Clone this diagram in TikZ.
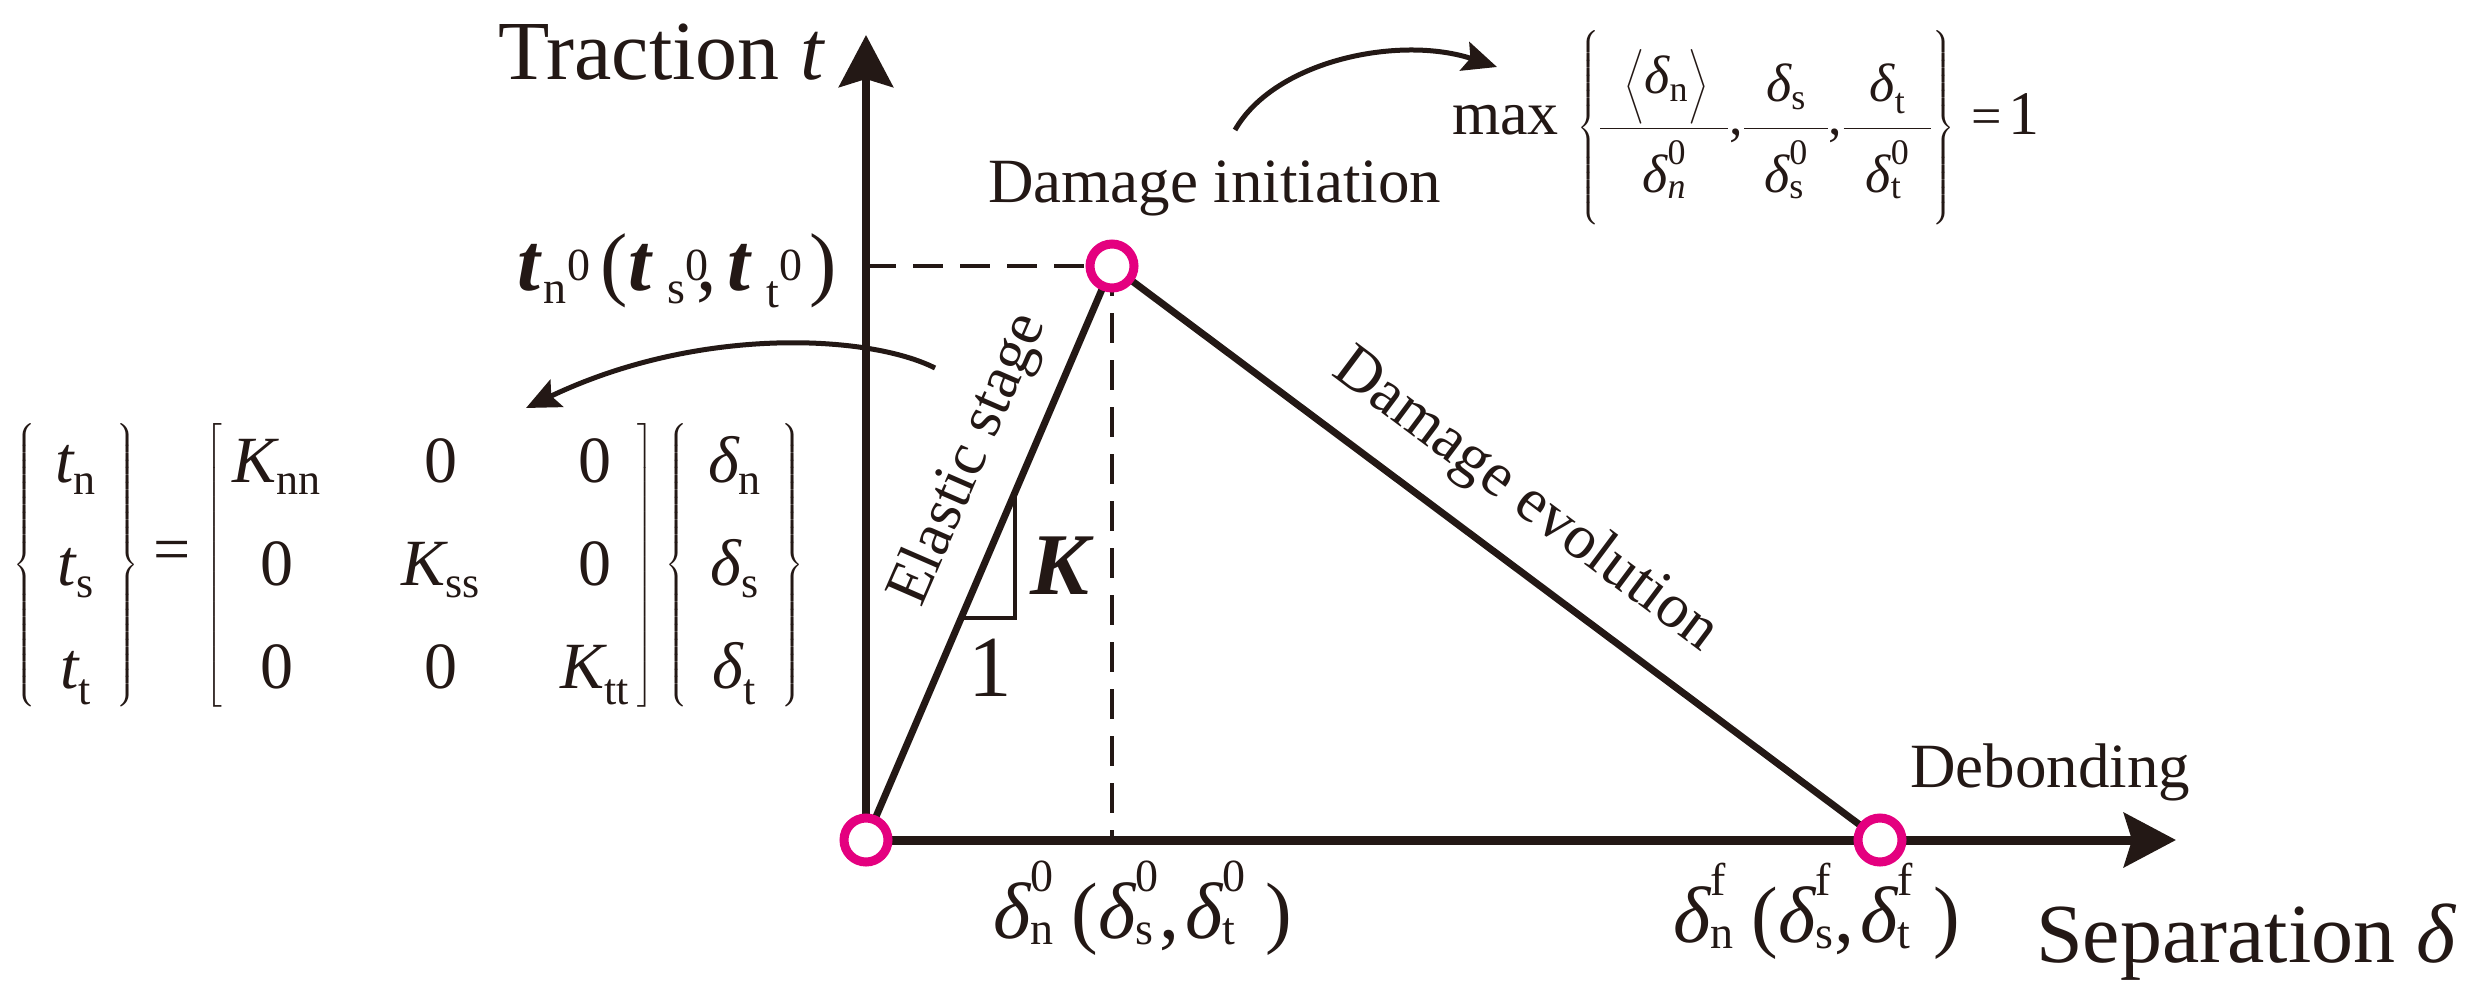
\documentclass[tikz,border=0pt]{standalone}
\usepackage{amsmath}
\usepackage{fontspec}
\setmainfont{Liberation Serif}
\usetikzlibrary{arrows.meta,calc}
\definecolor{ink}{RGB}{35,24,21}
\definecolor{mag}{RGB}{228,0,127}
\DeclareMathSizes{66}{66}{44}{34}
\DeclareMathSizes{80}{80}{46}{36}
\DeclareMathSizes{82}{82}{46}{36}
\DeclareMathSizes{54}{54}{36}{28}
\newcommand\mt[1]{\text{\itshape #1}}
\newcommand\mr[1]{\text{\upshape\mdseries #1}}
\newcommand\mb[1]{\text{\bfseries\itshape #1}}
\newcommand\dl{\text{\itshape δ}}
\newcommand\meq{\mathrel{\mr{=}}}
\newcommand\bigtxt[1]{\text{\fontsize{62}{62}\selectfont #1}}
\newcommand\numstrut{\vphantom{\rule[-23pt]{0pt}{75pt}}}
\newcommand\denstrut{\vphantom{\rule{0pt}{61pt}}}
\newcommand\bracestrut{\vcenter{\hbox{\rule{0pt}{186pt}}}}
\tikzset{
  lbl/.style={inner sep=0pt, text=ink},
  axisline/.style={draw=ink, line width=9pt, -{Stealth[length=52pt,width=54pt,inset=8pt]}},
  curveline/.style={draw=ink, line width=7pt, line cap=round},
  dashline/.style={draw=ink, line width=4.5pt, dash pattern=on 30pt off 17pt},
  thinline/.style={draw=ink, line width=3.5pt},
  carrow/.style={draw=ink, line width=5pt, -{Stealth[length=34pt,width=30pt,inset=6pt]}},
  ptmark/.style={circle, draw=mag, line width=9pt, fill=white, minimum size=44pt, inner sep=0pt},
}
\begin{document}
\begin{tikzpicture}[x=1pt,y=-1pt]
\useasboundingbox (0,0) rectangle (2466,1006);
% key points
\coordinate (O) at (866,840);
\coordinate (P) at (1112,266);
\coordinate (F) at (1880,840);
\coordinate (ytip) at (866,35);
\coordinate (xtip) at (2176,840);
% axes
\draw[axisline] (O) -- (xtip);
\draw[axisline, line width=8pt] (O) -- (ytip);
% dashed guides
\draw[dashline] (O |- P) -- (P);
\draw[dashline] (P) -- (P |- O);
% traction-separation law
\draw[curveline] (O) -- (P);
\draw[curveline] (P) -- (F);
% slope triangle
\coordinate (s1) at ($(O)!0.3868!(P)$);
\coordinate (s3) at ($(O)!0.6057!(P)$);
\draw[thinline] (s1) -- (s1 -| s3) -- (s3);
% points
\node[ptmark] (cO) at (O) {};
\node[ptmark] (cP) at (P) {};
\node[ptmark] (cF) at (F) {};
% curved arrows
\coordinate (a1s) at (935,368);
\coordinate (a1e) at (526,408);
\draw[carrow] (a1s) .. controls (870,335) and (700,325) .. (a1e);
\coordinate (a2s) at (1235,130);
\coordinate (a2e) at (1497,67);
\draw[carrow] (a2s) .. controls (1275,60) and (1400,35) .. (a2e);
% labels
\node[lbl, anchor=base east] (ylab) at (826,80) {\fontsize{84}{90}\selectfont Traction \textit{t}};
\node[lbl, anchor=base west] (xlab) at (2036,962) {\fontsize{84}{90}\selectfont Separation \textit{δ}};
\node[lbl, anchor=base west] (dini) at (988,202) {\fontsize{63}{70}\selectfont Damage initiation};
\node[lbl, anchor=base west] (debond) at (1910,787) {\fontsize{63}{70}\selectfont Debonding};
\node[lbl, rotate=66.5] (elastic) at (970,460) {\fontsize{62}{70}\selectfont Elastic stage};
\node[lbl, rotate=-36.8] (devol) at (1525,501) {\fontsize{63}{70}\selectfont Damage evolution};
\node[lbl] (Klab) at (1060,566) {\fontsize{88}{90}\selectfont\bfseries\itshape K};
\node[lbl] (onelab) at (990,668) {\fontsize{87}{90}\selectfont 1};
\node[lbl, anchor=base west] (tlab) at (517,290) {\fontsize{82}{84}\selectfont
  $\mb{t}\hspace{4pt}{}_{\mr{n}}{}^{\mr{0}}\hspace{10pt}\mr{(}\mb{t}\hspace{16pt}{}_{\mr{s}}{}^{\mr{0}}\hspace{-12pt}\mr{,}\hspace{10pt}\mb{t}\hspace{16pt}{}_{\mr{t}}{}^{\mr{0}}\hspace{6pt}\mr{)}$};
\node[lbl, anchor=base west] (d0lab) at (993,938) {\fontsize{80}{84}\selectfont
  $\dl^{\mr{0}}_{\mr{n}}\hspace{18pt}\mr{(}\dl^{\mr{0}}_{\mr{s}}\mr{,}\hspace{6pt}\dl^{\mr{0}}_{\mr{t}}\hspace{20pt}\mr{)}$};
\node[lbl, anchor=base west] (dflab) at (1673,942) {\fontsize{80}{84}\selectfont
  $\dl^{\mr{f}}_{\mr{n}}\hspace{18pt}\mr{(}\dl^{\mr{f}}_{\mr{s}}\mr{,}\hspace{6pt}\dl^{\mr{f}}_{\mr{t}}\hspace{20pt}\mr{)}$};
\node[lbl, anchor=west] (mateq) at (13,565) {\fontsize{66}{74}\selectfont
  \renewcommand\arraystretch{1.39}\setlength\arraycolsep{40pt}\delimitershortfall=25pt%
  $\left\{\hspace{20pt}\begin{array}{@{}c@{}}\mt{t}_{\mr{n}}\\ \mt{t}_{\mr{s}}\\ \mt{t}_{\mr{t}}\end{array}\hspace{20pt}\right\}
  \hspace{8pt}\meq\hspace{8pt}\left[\hspace{11pt}\begin{array}{@{}ccc@{}}\mt{K}_{\mr{nn}} & \mr{0} & \mr{0}\\ \mr{0} & \mt{K}_{\mr{ss}} & \mr{0}\\ \mr{0} & \mr{0} & \mt{K}_{\mr{tt}}\end{array}\hspace{8pt}\right]
  \hspace{8pt}\left\{\hspace{20pt}\begin{array}{@{}c@{}}\dl_{\mr{n}}\\ \dl_{\mr{s}}\\ \dl_{\mr{t}}\end{array}\hspace{20pt}\right\}$};
\node[lbl, anchor=west] (maxeq) at (1452,128) {\fontsize{54}{64}\selectfont
  $\bigtxt{max}\hspace{14pt}\left\{\bracestrut\dfrac{\numstrut\hspace{20pt}\left\langle\rule[-23pt]{0pt}{75pt}\dl_{\mr{n}}\right\rangle\hspace{20pt}}{\denstrut\dl^{\mr{0}}_{\mt{n}}}\mr{,}\dfrac{\numstrut\hspace{22pt}\dl_{\mr{s}}\hspace{22pt}}{\denstrut\dl^{\mr{0}}_{\mr{s}}}\mr{,}\dfrac{\numstrut\hspace{26pt}\dl_{\mr{t}}\hspace{26pt}}{\denstrut\dl^{\mr{0}}_{\mr{t}}}\right\}\hspace{10pt}\meq\bigtxt{1}$};
\end{tikzpicture}
\end{document}
